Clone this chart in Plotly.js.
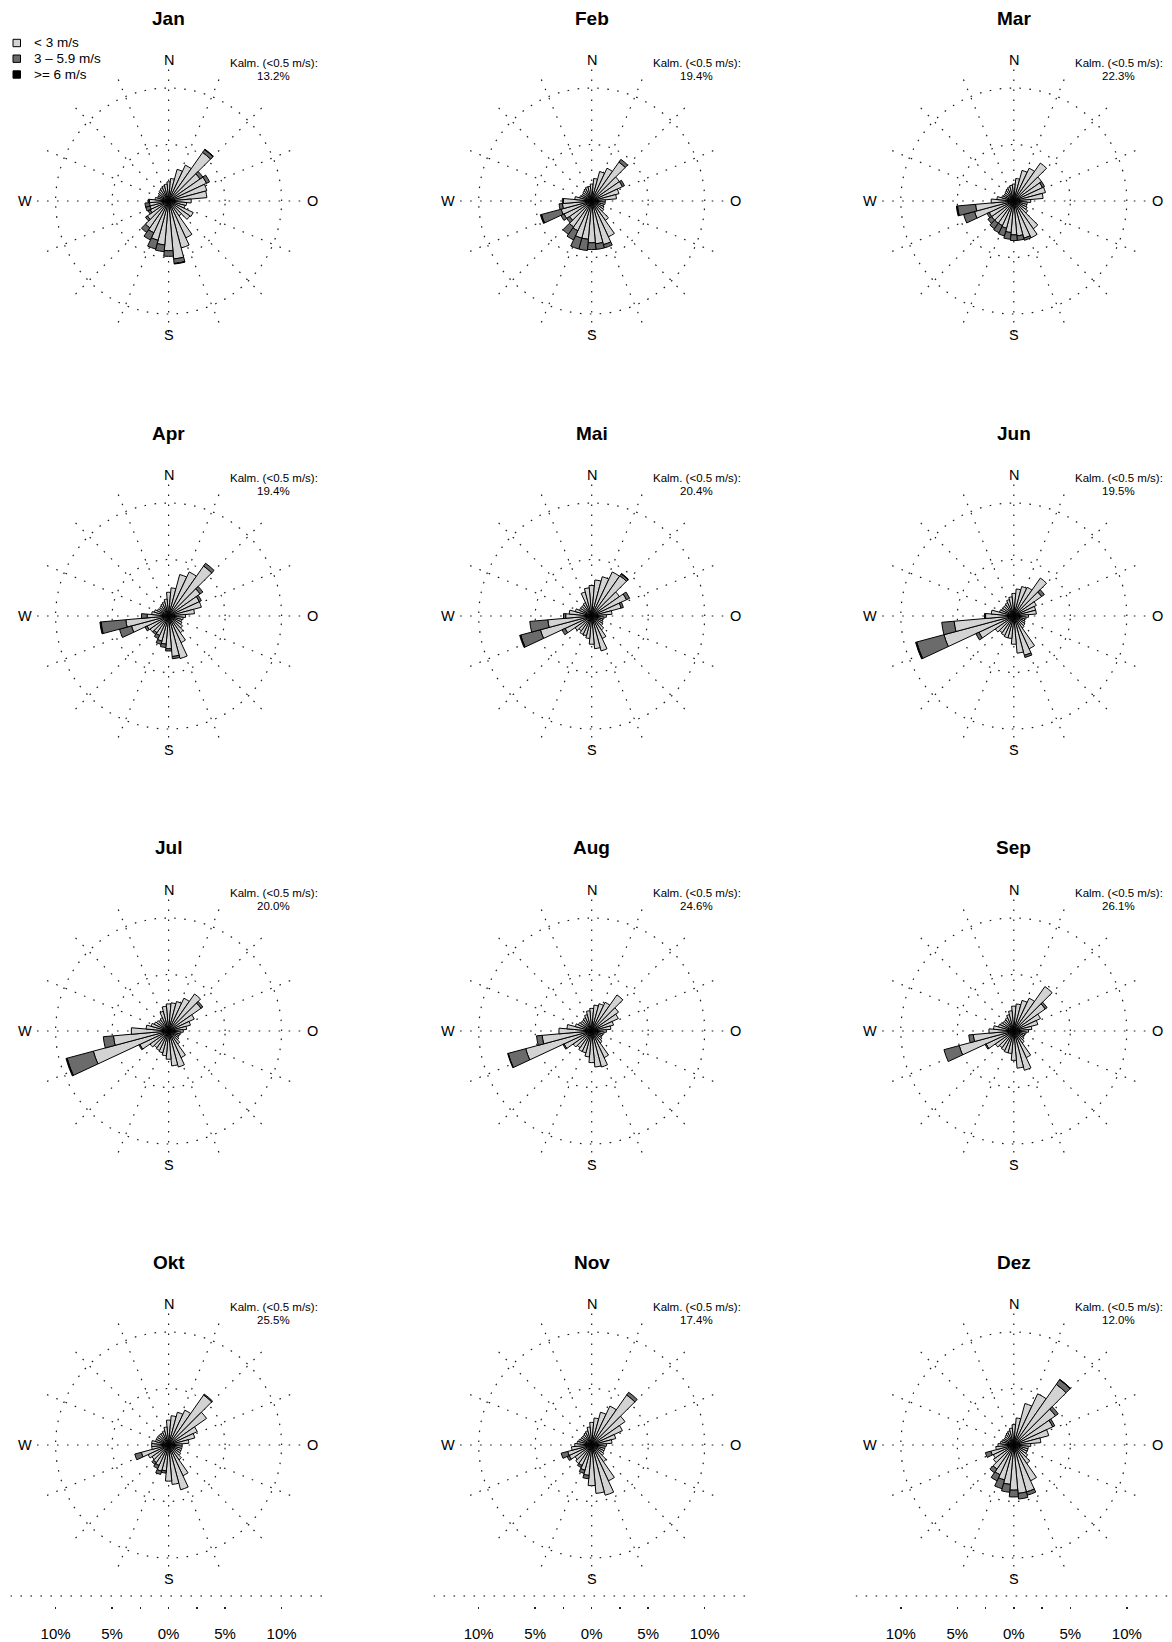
<!DOCTYPE html>
<html><head><meta charset="utf-8">
<script src="https://cdn.plot.ly/plotly-3.0.1.min.js"></script>
<style>body{margin:0;background:#fff}#chart{width:1172px;height:1642px}</style>
</head><body><div id="chart"></div>
<script>
// ---- data (percent of observations per 10° direction bin, 0°=N clockwise) ----
const directions = [0,10,20,30,40,50,60,70,80,90,100,110,120,130,140,150,160,170,180,190,200,210,220,230,240,250,260,270,280,290,300,310,320,330,340,350];
const months = ['Jan','Feb','Mar','Apr','Mai','Jun','Jul','Aug','Sep','Okt','Nov','Dez'];
const calmPct = ['13.2%','19.4%','22.3%','19.4%','20.4%','19.5%','20.0%','24.6%','26.1%','25.5%','17.4%','12.0%'];
const speedClasses = ['< 3 m/s','3 \u2013 5.9 m/s','>= 6 m/s'];
const cardinalLabels = ['N','O','S','W'];
const axisTickVals = [-10,-5,-2.5,0,2.5,5,10];
const axisTickText = ['10%','5%','','0%','','5%','10%'];

const janLow  = [1.7,2.0,2.9,3.5,5.25,3.4,3.7,3.5,3.4,2.0,1.6,1.5,2.4,2.3,1.6,3.6,4.3,5.15,4.4,3.9,3.6,3.1,2.9,2.3,1.8,1.7,1.7,1.7,1.2,1.0,1.0,1.1,1.2,1.3,1.4,1.5];
const janMid  = [0,0,0,0,0.3,0.3,0.3,0,0,0,0,0,0,0,0,0,0,0.4,0.5,0.6,0.8,0.7,0.5,0.2,0.2,0.4,0.4,0.1,0,0,0,0,0,0,0,0];
const janHigh = [0,0,0,0,0.05,0,0,0,0,0,0,0,0,0,0,0,0,0.05,0,0,0,0,0,0,0,0,0,0,0,0,0,0,0,0,0,0];

const febLow  = [1.5,2.0,2.7,3.2,4.2,3.0,3.0,2.5,2.2,1.2,1.2,1.1,1.2,1.3,2.1,3.5,4.0,3.8,3.7,3.4,3.4,2.9,2.8,2.4,2.7,2.8,2.6,2.5,1.5,1.1,1.0,1.0,1.1,1.2,1.3,1.3];
const febMid  = [0,0,0,0,0.3,0,0.2,0,0,0,0,0,0,0,0,0,0.3,0.5,0.6,1.0,1.0,0.9,0.8,0.3,0.3,1.8,0.3,0.1,0,0,0,0,0,0,0,0];
const febHigh = [0,0,0,0,0,0,0,0,0,0,0,0,0,0,0,0,0,0,0,0,0,0,0,0,0,0.1,0,0,0,0,0,0,0,0,0,0];

const marLow  = [1.5,2.0,2.8,3.2,4.1,3.0,2.8,2.9,2.6,1.5,1.2,1.2,1.3,1.5,3.0,3.6,3.4,3.1,3.0,2.8,2.5,2.4,2.4,2.4,2.4,3.6,3.4,2.0,1.5,1.1,1.0,1.0,1.1,1.2,1.3,1.4];
const marMid  = [0,0,0,0,0,0,0.2,0,0,0,0,0,0,0,0,0,0.2,0.4,0.5,0.6,0.7,0.7,0.6,0.4,0.2,1.0,1.6,0,0,0,0,0,0,0,0,0];
const marHigh = [0,0,0,0,0,0,0,0,0,0,0,0,0,0,0,0,0,0,0,0,0,0,0,0,0,0,0.1,0,0,0,0,0,0,0,0,0];

const aprLow  = [2.1,2.5,3.8,4.3,5.4,3.4,3.0,3.0,2.3,1.5,1.3,1.2,1.3,1.5,1.8,2.6,3.9,3.6,2.9,2.5,2.3,1.9,1.8,2.0,2.1,3.4,3.8,1.9,1.5,1.3,1.1,1.0,1.1,1.2,1.3,1.5];
const aprMid  = [0,0,0,0,0.3,0.3,0.2,0,0,0,0,0,0,0,0,0,0,0.2,0.2,0.3,0.3,0.3,0.2,0,0.2,1.1,2.2,0.5,0,0,0,0,0,0,0,0];
const aprHigh = [0,0,0,0,0,0,0,0,0,0,0,0,0,0,0,0,0,0,0,0,0,0,0,0,0,0,0.1,0,0,0,0,0,0,0,0,0];

const maiLow  = [2.7,3.2,3.6,4.3,4.35,3.0,3.4,2.7,1.8,1.3,1.1,1.0,1.1,1.2,1.5,2.2,3.2,2.9,2.5,2.0,1.8,1.8,1.6,1.8,2.6,4.7,3.9,2.3,2.0,1.5,1.2,1.2,1.2,1.3,2.2,2.5];
const maiMid  = [0,0,0,0,0.2,0,0.3,0.2,0,0,0,0,0,0,0,0,0,0,0,0,0,0,0,0,0.3,1.8,1.6,0.2,0,0,0,0,0,0,0,0];
const maiHigh = [0,0,0,0,0.05,0,0,0,0,0,0,0,0,0,0,0,0,0,0,0,0,0,0,0,0,0.1,0,0,0,0,0,0,0,0,0,0];

const junLow  = [2.0,2.4,2.7,2.8,4.1,3.0,2.2,2.0,2.0,1.3,1.1,1.0,1.1,1.2,1.3,3.2,3.6,3.3,2.5,2.0,2.0,1.9,1.8,2.0,3.4,6.4,5.3,2.5,2.0,1.3,1.2,1.2,1.2,1.3,1.5,1.7];
const junMid  = [0,0,0,0,0,0.3,0,0,0,0,0,0,0,0,0,0,0.2,0,0,0,0,0,0,0,0.3,2.5,1.1,0.1,0,0,0,0,0,0,0,0];
const junHigh = [0,0,0,0,0,0,0,0,0,0,0,0,0,0,0,0,0,0,0,0,0,0,0,0,0,0.1,0,0,0,0,0,0,0,0,0,0];

const julLow  = [2.4,2.5,2.7,3.2,4.0,3.5,2.5,2.0,1.6,1.3,1.1,1.0,1.0,1.1,1.4,2.6,3.3,3.1,2.5,2.2,2.0,1.9,1.8,2.0,2.8,6.9,4.9,3.3,2.0,1.6,1.4,1.3,1.2,1.3,1.8,2.2];
const julMid  = [0,0,0,0,0,0.2,0,0,0,0,0,0,0,0,0,0,0,0,0,0,0,0,0,0,0.1,2.4,0.9,0,0,0,0,0,0,0,0,0];
const julHigh = [0,0,0,0,0,0,0,0,0,0,0,0,0,0,0,0,0,0,0,0,0,0,0,0,0,0.1,0,0,0,0,0,0,0,0,0,0];

const augLow  = [2.0,2.3,2.5,2.8,3.9,2.9,2.6,2.0,1.7,1.3,1.1,1.0,1.0,1.1,1.3,2.6,3.3,3.2,2.8,2.3,2.0,2.0,1.8,2.0,2.7,6.05,4.4,2.9,2.2,1.5,1.3,1.2,1.2,1.3,1.5,1.8];
const augMid  = [0,0,0,0,0,0,0,0,0,0,0,0,0,0,0,0,0,0,0,0,0,0,0,0,0.1,1.6,0.5,0,0,0,0,0,0,0,0,0];
const augHigh = [0,0,0,0,0,0,0,0,0,0,0,0,0,0,0,0,0,0,0,0,0,0,0,0,0,0.05,0,0,0,0,0,0,0,0,0,0];

const sepLow  = [2.2,2.4,2.8,3.2,4.8,3.4,2.6,2.2,1.6,1.3,1.1,1.0,1.0,1.1,1.3,2.6,3.6,3.3,2.6,2.0,2.0,1.9,1.8,2.0,2.7,5.0,3.6,2.2,1.8,1.4,1.3,1.2,1.2,1.3,1.5,1.8];
const sepMid  = [0,0,0,0,0,0.2,0,0,0,0,0,0,0,0,0,0,0,0,0,0,0,0,0,0,0.1,1.4,0.4,0,0,0,0,0,0,0,0,0];
const sepHigh = [0,0,0,0,0,0,0,0,0,0,0,0,0,0,0,0,0,0,0,0,0,0,0,0,0,0,0,0,0,0,0,0,0,0,0,0];

const oktLow  = [2.2,2.6,3.0,3.4,5.4,4.1,2.8,2.4,1.8,1.2,1.2,1.2,1.2,1.3,1.6,3.0,4.1,3.5,3.2,2.3,2.4,2.0,1.9,1.8,2.0,2.5,1.5,1.5,1.5,1.2,1.2,1.2,1.2,1.2,1.3,1.6];
const oktMid  = [0,0,0,0,0.1,0,0,0,0,0,0,0,0,0,0,0,0,0,0,0.2,0.3,0.3,0.2,0,0,0.6,0,0,0,0,0,0,0,0,0,0];
const oktHigh = [0,0,0,0,0,0,0,0,0,0,0,0,0,0,0,0,0,0,0,0,0,0,0,0,0,0,0,0,0,0,0,0,0,0,0,0];

const novLow  = [2.0,2.4,3.0,3.8,5.4,3.6,3.0,2.2,1.8,1.3,1.2,1.2,1.2,1.3,1.8,3.5,4.6,4.3,3.6,2.7,2.3,2.0,2.0,1.8,2.2,2.2,1.8,1.5,1.3,1.2,1.1,1.1,1.1,1.2,1.3,1.6];
const novMid  = [0,0,0,0,0.3,0,0,0,0,0,0,0,0,0,0,0,0,0,0,0.3,0.3,0.2,0,0,0.2,0.6,0,0,0,0,0,0,0,0,0,0];
const novHigh = [0,0,0,0,0,0,0,0,0,0,0,0,0,0,0,0,0,0,0,0,0,0,0,0,0,0,0,0,0,0,0,0,0,0,0,0];

const dezLow  = [1.8,2.4,3.8,5.0,6.55,4.5,3.8,3.2,2.4,1.5,1.3,1.3,1.3,1.5,2.0,3.5,4.3,4.3,4.0,3.5,3.2,2.9,2.6,2.2,2.0,2.1,1.6,1.4,1.2,1.1,1.0,1.0,1.1,1.2,1.3,1.5];
const dezMid  = [0,0,0,0,0.5,0.3,0.2,0,0,0,0,0,0,0,0,0,0.3,0.5,0.6,0.7,0.8,0.6,0.4,0,0,0.5,0,0,0,0,0,0,0,0,0,0];
const dezHigh = [0,0,0,0,0.05,0,0,0,0,0,0,0,0,0,0,0,0,0,0,0,0,0,0,0,0,0,0,0,0,0,0,0,0,0,0,0];

const lowSeries  = [janLow,febLow,marLow,aprLow,maiLow,junLow,julLow,augLow,sepLow,oktLow,novLow,dezLow];
const midSeries  = [janMid,febMid,marMid,aprMid,maiMid,junMid,julMid,augMid,sepMid,oktMid,novMid,dezMid];
const highSeries = [janHigh,febHigh,marHigh,aprHigh,maiHigh,junHigh,julHigh,augHigh,sepHigh,oktHigh,novHigh,dezHigh];

// ---- layout geometry ----
const W = 1172, H = 1642;
const colX = [168.6, 591.7, 1013.8];
const rowY = [201, 616, 1031, 1445];
const PX = 11.3;          // pixels per percent
const RMAX = 12;
const R = PX * RMAX;
const colors = ['#d3d3d3', '#6b6b6b', '#000000'];
const FONT = 'Liberation Sans, Arial, Helvetica, sans-serif';
const spokes = [];
for (let a = 0; a < 360; a += 22.5) spokes.push(a);
const px = x => x / W;
const py = y => 1 - y / H;
const DOTS = '1.6px,8.4px';

const traces = [];
const layout = {
  width: W, height: H,
  margin: {l: 0, r: 0, t: 0, b: 0},
  paper_bgcolor: '#ffffff', plot_bgcolor: 'rgba(0,0,0,0)',
  showlegend: false,
  font: {family: FONT, color: '#000'},
  annotations: [], shapes: []
};

months.forEach((m, i) => {
  const col = i % 3, row = Math.floor(i / 3);
  const cx = colX[col], cy = rowY[row];
  const key = i === 0 ? 'polar' : 'polar' + (i + 1);
  layout[key] = {
    domain: {x: [px(cx - R), px(cx + R)], y: [py(cy + R), py(cy - R)]},
    bgcolor: 'rgba(0,0,0,0)',
    barmode: 'stack', bargap: 0,
    radialaxis: {range: [0, RMAX], tickvals: [5, 10], showticklabels: false, ticks: '',
      showline: false, showgrid: true, gridcolor: '#1a1a1a', gridwidth: 1.2, griddash: DOTS},
    angularaxis: {direction: 'clockwise', rotation: 90, tickmode: 'array', tickvals: spokes,
      showticklabels: false, ticks: '', showline: false, showgrid: true,
      gridcolor: '#1a1a1a', gridwidth: 1.2, griddash: DOTS}
  };
  [lowSeries[i], midSeries[i], highSeries[i]].forEach((arr, k) => {
    traces.push({type: 'barpolar', subplot: key, r: arr, theta: directions,
      name: speedClasses[k], marker: {color: colors[k], line: {color: '#000', width: 1}},
      hoverinfo: 'skip'});
  });
  // title
  layout.annotations.push({xref: 'paper', yref: 'paper', x: px(cx), y: py(cy - 183),
    xanchor: 'center', yanchor: 'middle', showarrow: false,
    text: '<b>' + m + '</b>', font: {size: 19, family: FONT}});
  // cardinal labels
  const off = [[0, -141], [144, 0], [0, 134], [-144, 0]];
  cardinalLabels.forEach((lab, j) => {
    layout.annotations.push({xref: 'paper', yref: 'paper', x: px(cx + off[j][0]), y: py(cy + off[j][1]),
      xanchor: 'center', yanchor: 'middle', showarrow: false, text: lab, font: {size: 14.5, family: FONT}});
  });
  // calm
  layout.annotations.push({xref: 'paper', yref: 'paper', x: px(cx + 105), y: py(cy - 138),
    xanchor: 'center', yanchor: 'middle', showarrow: false, text: 'Kalm. (&lt;0.5 m/s):', font: {size: 11.5, family: FONT}});
  layout.annotations.push({xref: 'paper', yref: 'paper', x: px(cx + 105), y: py(cy - 125),
    xanchor: 'center', yanchor: 'middle', showarrow: false, text: calmPct[i], font: {size: 11.5, family: FONT}});
});

// legend (Jan panel)
const legY = [43, 58.7, 74.5];
speedClasses.forEach((lab, k) => {
  layout.shapes.push({type: 'rect', xref: 'paper', yref: 'paper',
    x0: px(13), x1: px(20.5), y0: py(legY[k] + 3.7), y1: py(legY[k] - 3.7),
    fillcolor: colors[k], line: {color: '#000', width: 1}});
  layout.annotations.push({xref: 'paper', yref: 'paper', x: px(32), y: py(legY[k]),
    xanchor: 'left', yanchor: 'middle', showarrow: false, text: lab.replace('<', '&lt;'),
    font: {size: 13.5, family: FONT}});
});

// bottom scale axes
colX.forEach((cx, c) => {
  const xk = c === 0 ? 'xaxis' : 'xaxis' + (c + 1);
  const yk = c === 0 ? 'yaxis' : 'yaxis' + (c + 1);
  const xr = c === 0 ? 'x' : 'x' + (c + 1);
  const yr = c === 0 ? 'y' : 'y' + (c + 1);
  layout[xk] = {domain: [px(cx - 14 * PX), px(cx + 14 * PX)], range: [-14, 14], anchor: yr,
    tickmode: 'array', tickvals: axisTickVals, ticktext: axisTickText,
    ticks: 'outside', ticklen: 2, tickwidth: 1.5, tickcolor: '#222',
    showline: false, showgrid: false, zeroline: false, fixedrange: true,
    ticklabelstandoff: 12, tickfont: {size: 15, family: FONT, color: '#000'}};
  layout[yk] = {domain: [py(1606), py(1596)], range: [0, 1], visible: false, fixedrange: true};
  traces.push({type: 'scatter', x: [0], y: [0], xaxis: xr, yaxis: yr, mode: 'none', hoverinfo: 'skip', showlegend: false});
  layout.shapes.push({type: 'line', xref: xr, yref: 'paper', x0: -14, x1: 14, y0: py(1596), y1: py(1596),
    line: {color: '#000', width: 1.2, dash: DOTS}});
});

Plotly.newPlot('chart', traces, layout, {staticPlot: true});
</script>
</body></html>
